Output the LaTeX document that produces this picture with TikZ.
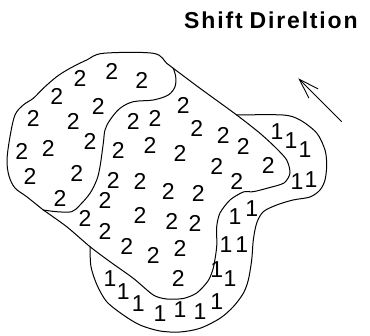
\documentclass[tikz,border=0pt]{standalone}
\usepackage{fontspec}
\setmainfont{Liberation Sans}
\usetikzlibrary{arrows.meta}
\tikzset{
  outline/.style={line width=1pt, line join=round, line cap=round},
  digit/.style={inner sep=0pt, font=\fontsize{23}{23}\selectfont},
  titletext/.style={inner sep=0pt, anchor=base west, font=\fontsize{23}{23}\selectfont\bfseries},
  shiftarrow/.style={line width=0.9pt, -{Straight Barb[length=20pt,width=13pt,line width=0.9pt]}}
}
\begin{document}
\begin{tikzpicture}[x=1pt,y=-1pt]
\useasboundingbox (0,0) rectangle (370,336);
% title and arrow
\node[titletext] (title) at (184,28.3) {\addfontfeature{LetterSpace=8}Shift\hspace{7pt}Direltion};
\coordinate (tail) at (341.7,121.7);
\coordinate (tip) at (298.3,78.3);
\draw[shiftarrow] (tail) -- (tip);
% outer left/top of region A
\draw[outline] plot[smooth, tension=0.55] coordinates {(43.3,210) (26.7,196.7) (15,188) (9,176) (7,160) (10,136.7) (15,115) (23.3,105) (33.3,98.3) (43.3,88.3) (56.7,76.7) (70,68.3) (86.7,60) (103.3,53.3) (153.3,53.3) (166.7,63.3) (173.3,68.3)};
% inner S curve between the two 2-regions
\draw[outline] plot[smooth, tension=0.55] coordinates {(173.3,68.3) (175.7,76.7) (175,86.7) (168.3,95) (153.3,100) (133.3,101.7) (120,108.3) (110,120) (105,130) (103.3,143.3) (100,166.7) (96.7,180) (90,193.3) (80,205) (71.7,211.7) (56.7,211.7) (43.3,210)};
% boundary of region B against region 1
\draw[outline] plot[smooth, tension=0.45] coordinates {(173.3,68.3) (200,88.3) (236.7,115) (260,133.3) (276,148) (286.7,160) (290,173) (284,183) (268,188) (253.3,191.7) (243.3,192) (230,200) (220,213) (216.7,226.7) (216.7,246.7) (213.3,268) (208,281) (196.7,293) (183.3,298.5) (166.7,299) (153.3,295) (133.3,278.3) (110,261.7) (90,246.7) (66.7,226.7) (43.3,210)};
% outer boundary of region 1
\draw[outline] plot[smooth, tension=0.5] coordinates {(236.7,115) (283,115) (300,120) (316.7,133) (325,150) (326.7,165) (325,180) (320,190) (310,197) (293,200) (276.7,205) (263.3,211.7) (256.7,223) (253.3,240) (251.7,260) (248.3,280) (243.3,293.3) (233.3,306.7) (220,318.3) (200,328.3) (180,332) (160,331) (140,325) (123.3,315) (106.7,301.7) (97,285) (91,266.7) (90,246.7)};
% region A digits
\foreach \p [count=\i] in {(80,78.3),(111.7,71.7),(141.7,80),(56.7,96.7),(98.3,106.7),(33.3,118.3),(73.3,121.7),(90,141.7),(21.7,151.7),(48.3,148.3),(30,176.7),(76.7,173.3),(60,198.3)}
  \node[digit] (a\i) at \p {2};
% region B digits
\foreach \p [count=\i] in {(183.3,105),(133.3,121.7),(155,118.3),(196.7,128.3),(223.3,135),(118.3,150),(150,145),(180,153.3),(243.3,146.7),(268.3,165),(216.7,166.7),(236.7,181.7),(113.3,180),(140,181.7),(168.3,191.7),(198.3,193.3),(105,200),(85,218.3),(140,215),(171.7,221.7),(195,223.3),(105,231.7),(126.7,246.7),(153.3,255),(180,248.3),(178.3,278.3)}
  \node[digit] (b\i) at \p {2};
% region 1 digits
\foreach \p [count=\i] in {(277,132),(291,141),(305,150),(297,182),(311,180),(235,216.7),(251.7,208.3),(226,245),(241.7,245),(216.7,270),(230,278.3),(110,278.3),(123.3,291.7),(138.3,303.3),(160,313.3),(180,310),(200,311.7),(216.7,301.7)}
  \node[digit] (c\i) at \p {1};
\end{tikzpicture}
\end{document}
